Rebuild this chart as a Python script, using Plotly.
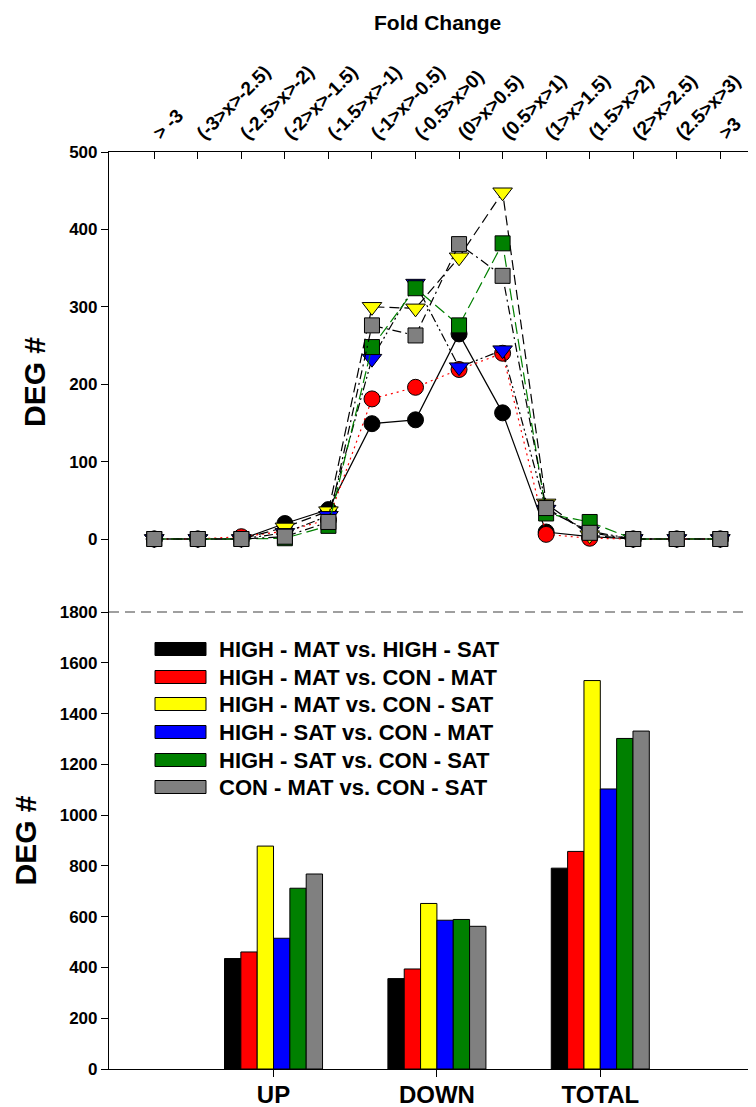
import plotly.graph_objects as go

# ---------------- data ----------------
fold_categories = ['> -3', '(-3>x>-2.5)', '(-2.5>x>-2)', '(-2>x>-1.5)', '(-1.5>x>-1)',
                   '(-1>x>-0.5)', '(-0.5>x>0)', '(0>x>0.5)', '(0.5>x>1)', '(1>x>1.5)',
                   '(1.5>x>2)', '(2>x>2.5)', '(2.5>x>3)', '>3']

series_names = ['HIGH - MAT vs. HIGH - SAT', 'HIGH - MAT vs. CON - MAT',
                'HIGH - MAT vs. CON - SAT', 'HIGH - SAT vs. CON - MAT',
                'HIGH - SAT vs. CON - SAT', 'CON - MAT vs. CON - SAT']

high_mat_vs_high_sat = [0, 0, 0, 20, 38, 149, 154, 265, 163, 9, 3, 0, 0, 0]
high_mat_vs_con_mat = [0, 0, 3, 10, 25, 181, 196, 219, 240, 6, 1, 0, 0, 0]
high_mat_vs_con_sat = [0, 0, 0, 15, 36, 300, 298, 364, 448, 46, 5, 0, 0, 0]
high_sat_vs_con_mat = [0, 0, 0, 8, 30, 233, 330, 222, 244, 38, 10, 0, 0, 0]
high_sat_vs_con_sat = [0, 0, 0, 1, 17, 248, 324, 276, 382, 33, 22, 0, 0, 0]
con_mat_vs_con_sat = [0, 0, 0, 3, 22, 276, 263, 381, 340, 40, 8, 0, 0, 0]

bar_categories = ['UP', 'DOWN', 'TOTAL']
bar_high_mat_vs_high_sat = [435, 356, 791]
bar_high_mat_vs_con_mat = [461, 394, 857]
bar_high_mat_vs_con_sat = [878, 652, 1530]
bar_high_sat_vs_con_mat = [515, 586, 1103]
bar_high_sat_vs_con_sat = [712, 589, 1302]
bar_con_mat_vs_con_sat = [768, 562, 1331]

top_y_ticks = [0, 100, 200, 300, 400, 500]
bottom_y_ticks = [0, 200, 400, 600, 800, 1000, 1200, 1400, 1600, 1800]

# ---------------- styles ----------------
FONT = 'Liberation Sans, Arial, sans-serif'
fill_colors = ['#000000', '#ff0000', '#ffff00', '#0000ff', '#008000', '#808080']
marker_symbols = ['circle', 'circle', 'triangle-down', 'triangle-down', 'square', 'square']
marker_sizes = [16, 16, 17, 17, 15, 15]
line_colors = ['#000000', '#ff0000', '#000000', '#000000', '#008000', '#000000']
line_dashes = ['solid', '2px,4px', '10px,5px', '9px,3px,2px,3px,2px,3px', '12px,5px', '9px,4px,2px,4px']

line_series = [high_mat_vs_high_sat, high_mat_vs_con_mat, high_mat_vs_con_sat,
               high_sat_vs_con_mat, high_sat_vs_con_sat, con_mat_vs_con_sat]
bar_series = [bar_high_mat_vs_high_sat, bar_high_mat_vs_con_mat, bar_high_mat_vs_con_sat,
              bar_high_sat_vs_con_mat, bar_high_sat_vs_con_sat, bar_con_mat_vs_con_sat]

# the page body adds an 8px offset, so the figure is 8px smaller than the window
OFF = 8
W, H = 756 - OFF, 1107 - OFF
ML, MR, MT, MB = 109 - OFF, 0, 152 - OFF, 38
split = 457 / 917.0

fig = go.Figure()

x_idx = list(range(len(fold_categories)))
for i, vals in enumerate(line_series):
    fig.add_trace(go.Scatter(
        x=x_idx, y=vals, mode='lines+markers', name=series_names[i],
        line=dict(color=line_colors[i], width=1.2, dash=line_dashes[i]),
        marker=dict(symbol=marker_symbols[i], size=marker_sizes[i], color=fill_colors[i],
                    line=dict(color='#000000', width=1)),
        xaxis='x', yaxis='y', showlegend=False, cliponaxis=False))

for i, vals in enumerate(bar_series):
    fig.add_trace(go.Bar(
        x=bar_categories, y=vals, name=series_names[i],
        marker=dict(color=fill_colors[i], line=dict(color='#000000', width=1)),
        xaxis='x2', yaxis='y2', showlegend=False))

axis_line = dict(showline=True, linecolor='#000000', linewidth=1.2, showgrid=False,
                 zeroline=False, automargin=False)

fig.update_layout(
    width=W, height=H, margin=dict(l=ML, r=MR, t=MT, b=MB, pad=0, autoexpand=False),
    paper_bgcolor='white', plot_bgcolor='white',
    font=dict(family=FONT, color='#000000'),
    barmode='group', bargap=0.4, bargroupgap=0,
    xaxis=dict(**axis_line, side='top', anchor='y', domain=[0, 1],
               range=[-1.04, 13.82], tickmode='array', tickvals=x_idx,
               ticktext=['<b>%s</b>' % c for c in fold_categories], tickangle=-45,
               ticks='inside', ticklen=7, tickcolor='#000000',
               tickfont=dict(size=19, family=FONT)),
    yaxis=dict(**axis_line, domain=[split, 1], range=[-94.3, 500], anchor='x',
               tickmode='array', tickvals=top_y_ticks,
               ticktext=['<b>%d</b>' % v for v in top_y_ticks],
               ticks='outside', ticklen=7, tickcolor='#000000',
               tickfont=dict(size=17, family=FONT),
               title=dict(text='<b>DEG #</b>', font=dict(size=30, family=FONT), standoff=14)),
    xaxis2=dict(**axis_line, anchor='y2', domain=[0, 1], range=[-1.007, 2.953],
                ticks='outside', ticklen=7, tickcolor='#000000',
                tickmode='array', tickvals=bar_categories,
                ticktext=['<b>%s</b>' % c for c in bar_categories],
                ticklabelstandoff=-3,
                tickfont=dict(size=24, family=FONT)),
    yaxis2=dict(**axis_line, domain=[0, split], range=[0, 1800], anchor='x2',
                tickmode='array', tickvals=bottom_y_ticks,
                ticktext=['<b>%d</b>' % v for v in bottom_y_ticks],
                ticks='outside', ticklen=7, tickcolor='#000000',
                tickfont=dict(size=17, family=FONT),
                title=dict(text='<b>DEG #</b>', font=dict(size=30, family=FONT), standoff=14)),
)

# separator between panels
fig.add_shape(type='line', xref='paper', yref='paper', x0=0, x1=1, y0=split, y1=split,
              line=dict(color='#808080', width=1.5, dash='10px,6px'))

# positions below are given in window pixels; convert to paper coordinates
plot_w = W - ML - MR
plot_h = H - MT - MB


def px_x(x):
    return (x - OFF - ML) / plot_w


def px_y(y):
    return (H - MB - (y - OFF)) / plot_h


fig.add_annotation(text='<b>Fold Change</b>', xref='paper', yref='paper',
                   x=px_x(437), y=px_y(22),
                   showarrow=False, xanchor='center', yanchor='middle',
                   font=dict(size=21, family=FONT))

# legend drawn in bottom panel
row_y = [649, 677, 704, 732, 760, 787]
for i, name in enumerate(series_names):
    yc = row_y[i]
    fig.add_shape(type='rect', xref='paper', yref='paper',
                  x0=px_x(155), x1=px_x(206),
                  y0=px_y(yc + 6.5), y1=px_y(yc - 6.5),
                  fillcolor=fill_colors[i], line=dict(color='#000000', width=1))
    fig.add_annotation(text='<b>%s</b>' % name, xref='paper', yref='paper',
                       x=px_x(217), y=px_y(yc),
                       showarrow=False, xanchor='left', yanchor='middle',
                       font=dict(size=22, family=FONT))

fig.write_html('out.html')
